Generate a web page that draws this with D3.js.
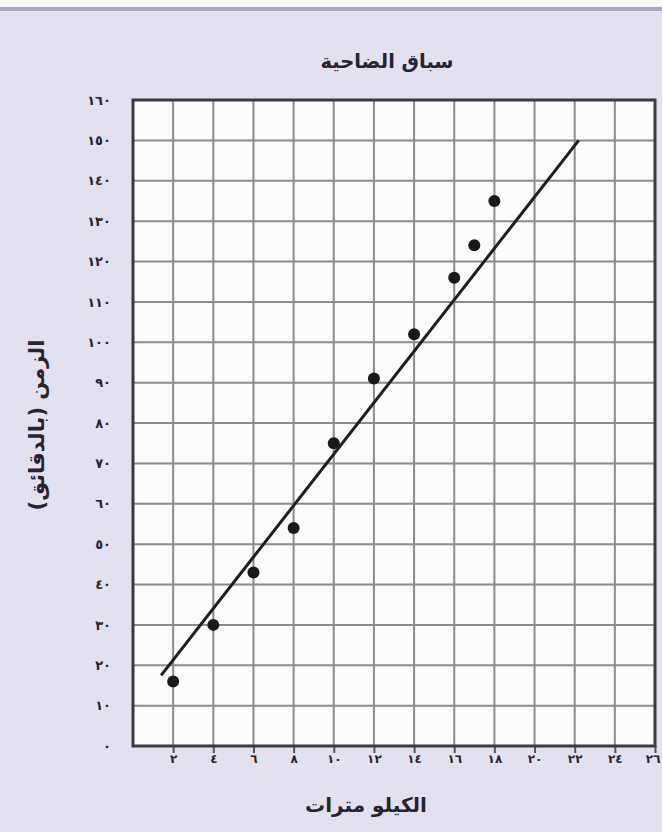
<!DOCTYPE html>
<html lang="ar">
<head>
<meta charset="utf-8">
<script src="https://cdn.jsdelivr.net/npm/d3@7"></script>
<style>
  html, body { margin: 0; padding: 0; background: #e3e0ef; }
  svg { display: block; }
  text { font-family: "DejaVu Sans", sans-serif; fill: #262431; }
</style>
</head>
<body>
<div id="chart"></div>
<script>
'use strict';

// Data: distance (km) and time (minutes) for each runner
var distances = [2, 4, 6, 8, 10, 12, 14, 16, 17, 18];
var times = [16, 30, 43, 54, 75, 91, 102, 116, 124, 135];

// hand-drawn trend line, two end points
var trendKm = [1.4, 22.2];
var trendMin = [17.5, 150];

var xTickValues = [2, 4, 6, 8, 10, 12, 14, 16, 18, 20, 22, 24, 26];
var yTickValues = [0, 10, 20, 30, 40, 50, 60, 70, 80, 90, 100, 110, 120, 130, 140, 150, 160];

var title = 'سباق الضاحية';
var xTitle = 'الكيلو مترات';
var yTitle = 'الزمن (بالدقائق)';

// western digits -> arabic-indic
var arabicDigits = '٠١٢٣٤٥٦٧٨٩';
function toArabic(n) {
  return String(n).replace(/[0-9]/g, function(d){ return arabicDigits[+d] });
}

var W = 662, H = 832;
var margin = {top: 100, right: 7, bottom: 86, left: 133};
var width = W - margin.left - margin.right;
var height = H - margin.top - margin.bottom;

var svg = d3.select('#chart').append('svg')
  .attr('width', W)
  .attr('height', H);

// page edge above the chart
svg.append('rect').attr('x', 0).attr('y', 0).attr('width', W).attr('height', 8).attr('fill', '#f5f4fa');
svg.append('rect').attr('x', 0).attr('y', 7).attr('width', W).attr('height', 4).attr('fill', '#a9a5c2');

var x = d3.scaleLinear().domain([0, 26]).range([0, width]);
var y = d3.scaleLinear().domain([0, 160]).range([height, 0]);

var g = svg.append('g')
  .attr('transform', 'translate(' + margin.left + ',' + margin.top + ')');

g.append('rect')
  .attr('width', width)
  .attr('height', height)
  .attr('fill', '#fbfbfc');

// grid
g.append('g').selectAll('line')
  .data(xTickValues)
  .join('line')
  .attr('x1', function(d){ return x(d) })
  .attr('x2', function(d){ return x(d) })
  .attr('y1', 0)
  .attr('y2', height)
  .attr('stroke', '#8a8a90')
  .attr('stroke-width', 2);

g.append('g').selectAll('line')
  .data(yTickValues)
  .join('line')
  .attr('x1', 0)
  .attr('x2', width)
  .attr('y1', function(d){ return y(d) })
  .attr('y2', function(d){ return y(d) })
  .attr('stroke', '#8a8a90')
  .attr('stroke-width', 2);

// axes
var xAxis = d3.axisBottom(x)
  .tickValues(xTickValues)
  .tickSize(7)
  .tickPadding(1)
  .tickFormat(toArabic);

var yAxis = d3.axisLeft(y)
  .tickValues(yTickValues)
  .tickSize(0)
  .tickPadding(22)
  .tickFormat(toArabic);

var gx = g.append('g')
  .attr('transform', 'translate(0,' + height + ')')
  .call(xAxis);
gx.select('.domain').remove();
gx.selectAll('line').attr('stroke', '#55545c').attr('stroke-width', 2);
gx.selectAll('text')
  .style('font-size', '12px')
  .style('font-weight', 'bold')
  .attr('fill', '#3a3845');
// last label sits on the right edge of the page
gx.selectAll('.tick').filter(function(d){ return d === 26 })
  .select('text').attr('text-anchor', 'end').attr('x', 5);

var gy = g.append('g').call(yAxis);
gy.select('.domain').remove();
gy.selectAll('text')
  .style('font-size', '13px')
  .style('font-weight', 'bold')
  .attr('fill', '#3a3845');

// frame
g.append('rect')
  .attr('width', width)
  .attr('height', height)
  .attr('fill', 'none')
  .attr('stroke', '#3a3a40')
  .attr('stroke-width', 3);

// trend line
g.append('line')
  .attr('x1', x(trendKm[0]))
  .attr('y1', y(trendMin[0]))
  .attr('x2', x(trendKm[1]))
  .attr('y2', y(trendMin[1]))
  .attr('stroke', '#1e1e22')
  .attr('stroke-width', 3);

// points
g.append('g').selectAll('circle')
  .data(distances)
  .join('circle')
  .attr('cx', function(d){ return x(d) })
  .attr('cy', function(d, i){ return y(times[i]) })
  .attr('r', 6)
  .attr('fill', '#19191c');

// titles
svg.append('text')
  .attr('x', 387)
  .attr('y', 68)
  .attr('text-anchor', 'middle')
  .style('font-size', '19.5px')
  .style('font-weight', 'bold')
  .text(title);

svg.append('text')
  .attr('x', 366)
  .attr('y', 812)
  .attr('text-anchor', 'middle')
  .style('font-size', '20px')
  .style('font-weight', 'bold')
  .text(xTitle);

svg.append('text')
  .attr('transform', 'translate(37,425) rotate(-90)')
  .attr('text-anchor', 'middle')
  .attr('dy', '0.35em')
  .style('font-size', '21px')
  .style('font-weight', 'bold')
  .text(yTitle);
</script>
</body>
</html>
